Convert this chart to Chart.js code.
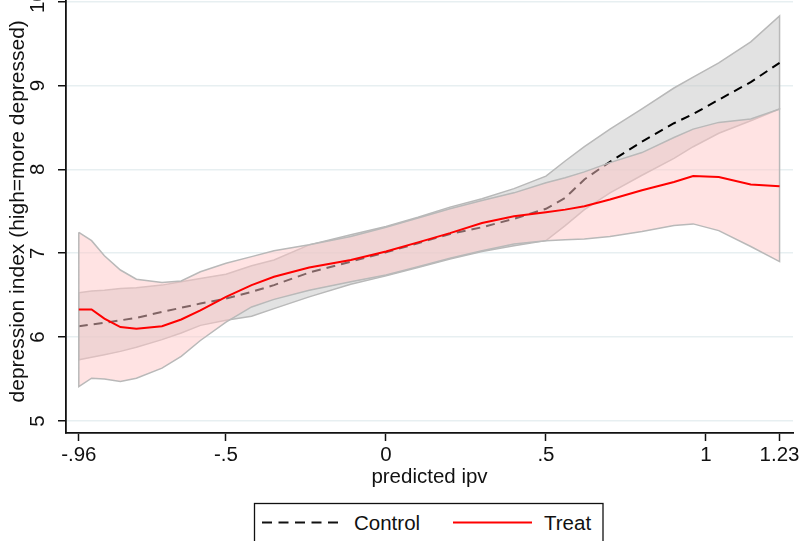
<!DOCTYPE html>
<html>
<head>
<meta charset="utf-8">
<script src="https://cdn.jsdelivr.net/npm/chart.js@4.4.1/dist/chart.umd.min.js"></script>
<style>
  html, body { margin: 0; padding: 0; background: #fff; }
  #wrap { position: relative; width: 803px; height: 541px; overflow: hidden; }
  #chart { position: absolute; left: 0; top: 0; }
  #legend { position: absolute; left: 0; top: 0; pointer-events: none; }
</style>
</head>
<body>
<div id="wrap">
  <canvas id="chart" width="803" height="541"></canvas>
  <svg id="legend" width="803" height="541">
    <rect x="254.5" y="503.5" width="348.5" height="45" fill="#fff" stroke="#111" stroke-width="1.3"/>
    <line x1="262" y1="522.5" x2="341" y2="522.5" stroke="#111" stroke-width="2" stroke-dasharray="10,6.5"/>
    <text x="354" y="530" font-family="Liberation Sans, Arial, sans-serif" font-size="20.5" fill="#111">Control</text>
    <line x1="453" y1="522.5" x2="532" y2="522.5" stroke="#ff0000" stroke-width="2"/>
    <text x="544" y="530" font-family="Liberation Sans, Arial, sans-serif" font-size="20.5" fill="#111">Treat</text>
  </svg>
</div>
<script>
// predicted ipv grid
const xGrid = [-0.96, -0.92, -0.88, -0.83, -0.78, -0.7, -0.64, -0.58, -0.5, -0.42, -0.35, -0.24,
  -0.11, 0, 0.1, 0.2, 0.3, 0.4, 0.5, 0.56, 0.62, 0.7, 0.8, 0.9, 0.96, 1.04, 1.14, 1.23];

const treatMean = [6.33, 6.33, 6.22, 6.12, 6.10, 6.13, 6.21, 6.32, 6.48, 6.62, 6.72, 6.83,
  6.92, 7.02, 7.13, 7.24, 7.36, 7.44, 7.49, 7.52, 7.56, 7.64, 7.75, 7.85, 7.92, 7.91, 7.82, 7.80];
const treatUpper = [7.25, 7.15, 6.97, 6.80, 6.69, 6.65, 6.67, 6.78, 6.88, 6.96, 7.03, 7.10,
  7.20, 7.31, 7.42, 7.53, 7.63, 7.72, 7.84, 7.90, 7.97, 8.08, 8.20, 8.38, 8.48, 8.56, 8.60, 8.72];
const treatLower = [5.41, 5.51, 5.50, 5.47, 5.51, 5.63, 5.77, 5.96, 6.18, 6.36, 6.45, 6.56,
  6.66, 6.74, 6.84, 6.94, 7.03, 7.11, 7.15, 7.16, 7.17, 7.20, 7.26, 7.33, 7.35, 7.27, 7.08, 6.90];

const controlMean = [6.13, 6.15, 6.17, 6.20, 6.23, 6.30, 6.35, 6.40, 6.46, 6.54, 6.62, 6.77,
  6.90, 7.01, 7.12, 7.23, 7.31, 7.41, 7.53, 7.66, 7.88, 8.09, 8.33, 8.55, 8.66, 8.83, 9.04, 9.27];
const controlUpper = [6.53, 6.55, 6.56, 6.58, 6.59, 6.62, 6.66, 6.70, 6.75, 6.85, 6.92, 7.10,
  7.22, 7.32, 7.43, 7.55, 7.65, 7.77, 7.92, 8.10, 8.27, 8.48, 8.72, 8.97, 9.10, 9.27, 9.52, 9.83];
const controlLower = [5.73, 5.76, 5.79, 5.83, 5.88, 5.97, 6.05, 6.14, 6.20, 6.25, 6.34, 6.48,
  6.63, 6.73, 6.83, 6.93, 7.02, 7.09, 7.15, 7.33, 7.52, 7.72, 7.93, 8.13, 8.27, 8.43, 8.58, 8.72];

const xTicks = [-0.96, -0.5, 0, 0.5, 1, 1.23];
const xTickLabels = ['-.96', '-.5', '0', '.5', '1', '1.23'];
const yTicks = [5, 6, 7, 8, 9, 10];
const yTickLabels = ['5', '6', '7', '8', '9', '10'];

const FONT = '"Liberation Sans", Arial, sans-serif';
const INK = '#111';

function toPoints(xs, ys) {
  return xs.map((x, i) => ({ x: x, y: ys[i] }));
}

// closed polygon: upper left->right, lower right->left
function band(xs, upper, lower) {
  const pts = toPoints(xs, upper);
  for (let i = xs.length - 1; i >= 0; i--) pts.push({ x: xs[i], y: lower[i] });
  pts.push({ x: xs[0], y: upper[0] });
  return pts;
}

// stata style rotated y labels + title
const yLabels = {
  id: 'yLabels',
  afterDraw(chart) {
    const ctx = chart.ctx;
    const ys = chart.scales.y;
    const area = chart.chartArea;
    ctx.save();
    ctx.fillStyle = INK;
    ctx.textAlign = 'center';
    ctx.textBaseline = 'middle';
    ctx.font = '20.5px ' + FONT;
    yTicks.forEach((v, i) => {
      ctx.save();
      ctx.translate(38.5, ys.getPixelForValue(v));
      ctx.rotate(-Math.PI / 2);
      ctx.fillText(yTickLabels[i], 0, 0);
      ctx.restore();
    });
    ctx.font = '21px ' + FONT;
    ctx.translate(18.5, (area.top + area.bottom) / 2 - 5.5);
    ctx.rotate(-Math.PI / 2);
    ctx.fillText('depression index (high=more depressed)', 0, 0);
    ctx.restore();
  }
};

new Chart(document.getElementById('chart'), {
  type: 'line',
  data: {
    datasets: [
      {
        label: 'Treat',
        data: toPoints(xGrid, treatMean),
        borderColor: '#ff0000',
        borderWidth: 2,
        pointRadius: 0,
        fill: false,
        tension: 0
      },
      {
        label: 'Treat CI',
        data: band(xGrid, treatUpper, treatLower),
        borderColor: '#b9b9b9',
        borderWidth: 1.5,
        backgroundColor: 'rgba(255,199,199,0.5)',
        pointRadius: 0,
        fill: 'shape',
        tension: 0
      },
      {
        label: 'Control',
        data: toPoints(xGrid, controlMean),
        borderColor: '#000',
        borderWidth: 2,
        borderDash: [9, 6],
        pointRadius: 0,
        fill: false,
        tension: 0
      },
      {
        label: 'Control CI',
        data: band(xGrid, controlUpper, controlLower),
        borderColor: '#b9b9b9',
        borderWidth: 1.5,
        backgroundColor: 'rgba(198,198,198,0.5)',
        pointRadius: 0,
        fill: 'shape',
        tension: 0
      }
    ]
  },
  options: {
    responsive: false,
    animation: false,
    layout: { padding: { left: 0, right: 10, top: 0, bottom: 51 } },
    plugins: {
      legend: { display: false },
      tooltip: { enabled: false }
    },
    scales: {
      x: {
        type: 'linear',
        min: -1.0,
        max: 1.272,
        afterBuildTicks: (s) => { s.ticks = xTicks.map(v => ({ value: v })); },
        afterFit: (s) => { s.height = 57; },
        ticks: {
          autoSkip: false,
          maxRotation: 0,
          padding: 2,
          color: INK,
          font: { family: FONT, size: 20.5 },
          callback: (v) => xTickLabels[xTicks.indexOf(v)]
        },
        grid: {
          drawOnChartArea: false,
          drawTicks: true,
          tickLength: 8,
          tickColor: INK,
          tickWidth: 1.5
        },
        border: { display: true, color: INK, width: 1.8 },
        title: {
          display: true,
          text: 'predicted ipv',
          color: INK,
          font: { family: FONT, size: 20.5 },
          padding: 0
        }
      },
      y: {
        type: 'linear',
        min: 4.857,
        max: 10.012,
        afterBuildTicks: (s) => { s.ticks = yTicks.map(v => ({ value: v })); },
        afterFit: (s) => { s.width = 66; },
        // labels are drawn rotated by the yLabels plugin
        ticks: { color: 'rgba(0,0,0,0)', padding: 0, font: { family: FONT, size: 1 } },
        grid: {
          color: '#e7eff1',
          lineWidth: 1.5,
          drawTicks: true,
          tickLength: 8,
          tickColor: INK,
          tickWidth: 1.5
        },
        border: { display: true, color: INK, width: 1.8 }
      }
    }
  },
  plugins: [yLabels]
});
</script>
</body>
</html>
